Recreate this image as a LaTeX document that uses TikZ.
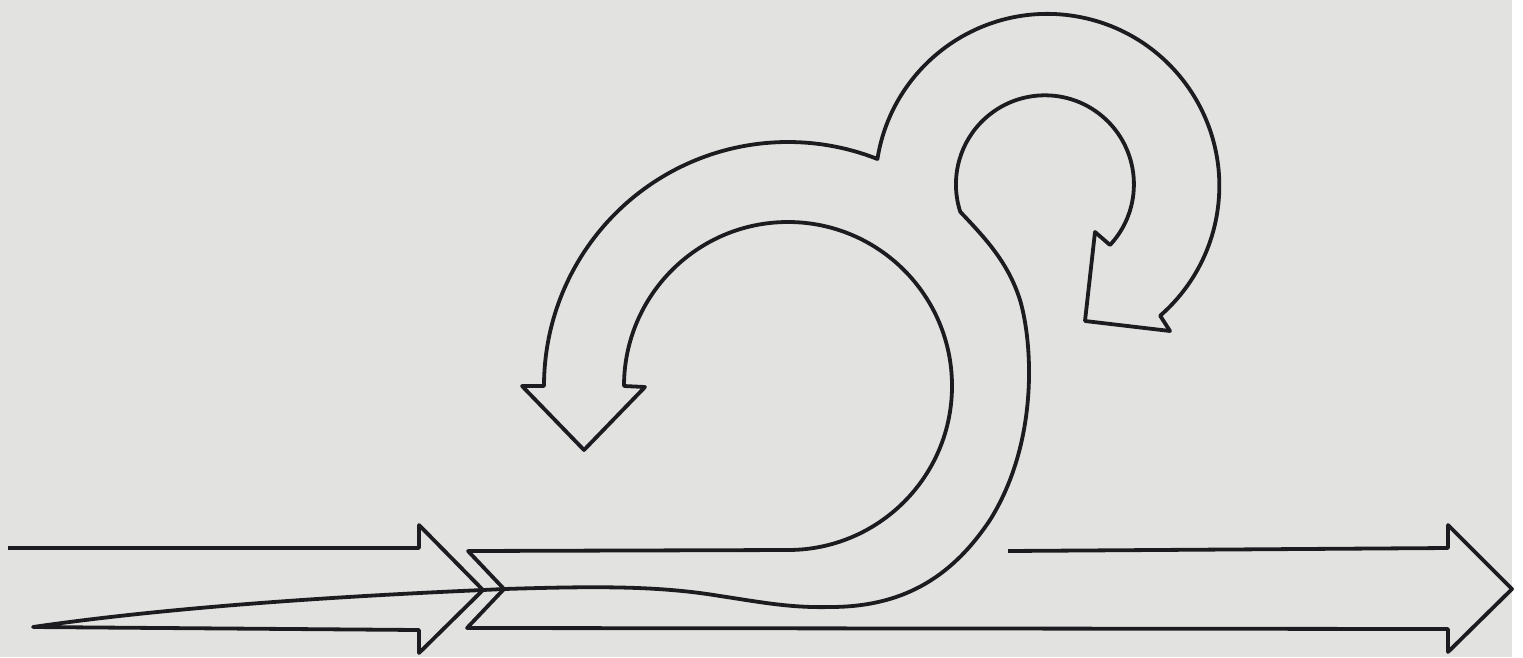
\documentclass[tikz,border=0pt]{standalone}
\usepackage{tikz}
\definecolor{ink}{HTML}{1C1B1F}
\definecolor{paper}{HTML}{E2E2E0}

\begin{document}
\begin{tikzpicture}[x=1pt,y=-1pt,
    outline/.style={draw=ink,line width=3.8pt,line join=round}]
  \useasboundingbox (0,0) rectangle (1523,657);
  \fill[paper] (0,0) rectangle (1512,657);
  \coordinate (bigc) at (788,386);
  \coordinate (smallc) at (1046,185);
  \draw[outline] (1008,551) -- (1448,548) -- (1448,525) -- (1512,589) -- (1448,652) -- (1448,629)
    -- (467,628) -- (504,589) -- (468,551) -- (788,550)
    arc[start angle=90,end angle=-180,radius=164]
    -- (645,387) -- (584,450) -- (522,386) -- (544,386)
    arc[start angle=180,end angle=291.5,radius=244]
    arc[start angle=189,end angle=409,radius=172]
    -- (1170,331) -- (1085,321) -- (1095,232) -- (1110,245)
    arc[start angle=43,end angle=-198,radius=89]
    .. controls (985,238) and (1008,262) .. (1020,300)
    .. controls (1032,340) and (1040,440) .. (990,520)
    .. controls (950,580) and (900,607) .. (830,607)
    .. controls (790,608) and (760,602) .. (720,596)
    .. controls (660,586) and (600,586) .. (504,589);
  \draw[outline] (504,589) -- (483,590)
    .. controls (300,598) and (150,610) .. (33,627)
    -- (419,630) -- (419,653) -- (483,590) -- (419,525) -- (419,548) -- (8,548);
\end{tikzpicture}
\end{document}
